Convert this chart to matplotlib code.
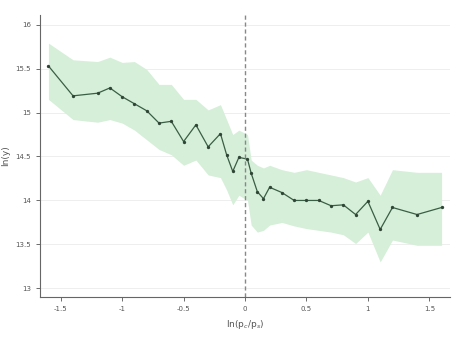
import matplotlib
matplotlib.use("Agg")
import matplotlib.pyplot as plt

# estimated coefficients with confidence band
x_vals = [-1.6, -1.4, -1.2, -1.1, -1.0, -0.9, -0.8, -0.7, -0.6, -0.5, -0.4, -0.3, -0.2,
          -0.15, -0.1, -0.05, 0.02, 0.05, 0.1, 0.15, 0.2, 0.3, 0.4, 0.5, 0.6, 0.7, 0.8,
          0.9, 1.0, 1.1, 1.2, 1.4, 1.6]
y_vals = [15.53, 15.19, 15.22, 15.28, 15.18, 15.10, 15.02, 14.88, 14.90, 14.67, 14.86,
          14.61, 14.76, 14.52, 14.33, 14.49, 14.47, 14.31, 14.10, 14.02, 14.15, 14.09,
          14.00, 14.00, 14.00, 13.94, 13.95, 13.84, 13.99, 13.67, 13.92, 13.84, 13.92]
upper = [15.79, 15.60, 15.58, 15.63, 15.57, 15.58, 15.49, 15.32, 15.32, 15.15, 15.15,
         15.03, 15.09, 14.92, 14.75, 14.80, 14.75, 14.46, 14.40, 14.37, 14.40, 14.35,
         14.32, 14.35, 14.32, 14.29, 14.26, 14.21, 14.26, 14.06, 14.35, 14.32, 14.32]
lower = [15.15, 14.92, 14.89, 14.92, 14.88, 14.80, 14.69, 14.58, 14.52, 14.40, 14.46,
         14.29, 14.26, 14.12, 13.95, 14.06, 14.00, 13.72, 13.64, 13.66, 13.72, 13.75,
         13.71, 13.68, 13.66, 13.64, 13.61, 13.51, 13.64, 13.30, 13.55, 13.49, 13.49]
x_ticks = [-1.5, -1, -0.5, 0, 0.5, 1, 1.5]
y_ticks = [13, 13.5, 14, 14.5, 15, 15.5, 16]

fig = plt.figure(figsize=(4.58, 3.40), dpi=100)
ax = fig.add_axes([0.087, 0.126, 0.896, 0.83])

ax.fill_between(x_vals, lower, upper, color="#d6efd9", linewidth=0)
ax.plot(x_vals, y_vals, color="#3a5e44", linewidth=0.9, marker="o", markersize=2.4,
        markerfacecolor="#2f4536", markeredgewidth=0)
ax.axvline(0, color="#888888", linestyle=(0, (3, 2)), linewidth=1.0)

ax.set_xlim(-1.67, 1.67)
ax.set_ylim(12.9, 16.11)
ax.set_xticks(x_ticks)
ax.set_xticklabels([f"{t:g}" for t in x_ticks])
ax.set_yticks(y_ticks)
ax.set_yticklabels([f"{t:g}" for t in y_ticks])
ax.grid(axis="y", color="#eeeeee", linewidth=0.7)
ax.set_axisbelow(True)

for side in ["top", "right"]:
    ax.spines[side].set_visible(False)
for side in ["left", "bottom"]:
    ax.spines[side].set_color("#666666")
    ax.spines[side].set_linewidth(0.8)
ax.tick_params(labelsize=5, colors="#555555", length=3, width=0.6)

ax.set_xlabel("ln(p$_c$/p$_s$)", fontsize=6.5, color="#555555")
ax.set_ylabel("ln(y)", fontsize=6.5, color="#555555")

fig.savefig("out.png", dpi=100)
